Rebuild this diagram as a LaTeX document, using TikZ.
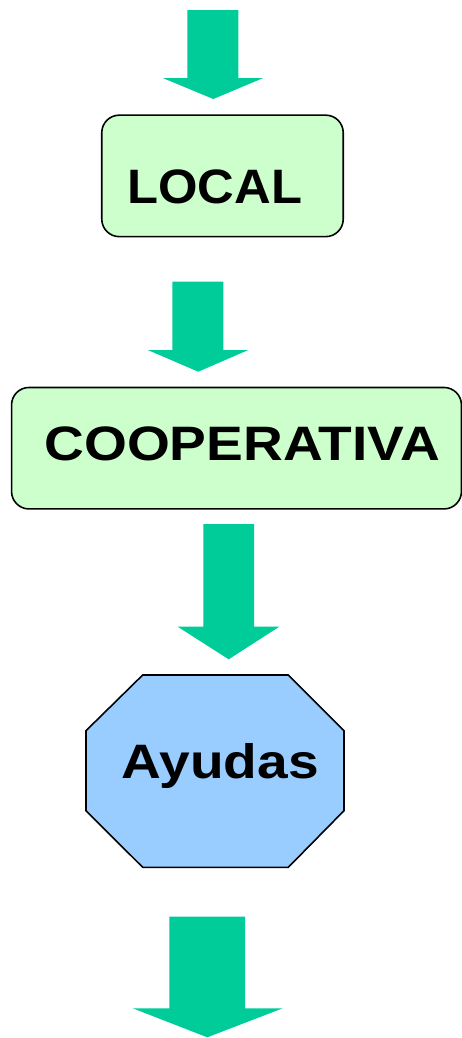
\documentclass[tikz,border=0pt]{standalone}
\usepackage{fontspec}
\setmainfont{Liberation Sans}
\usepackage{xcolor}
\usepackage{tikz}
\usetikzlibrary{positioning}

\definecolor{arrowgreen}{HTML}{00CC99}
\definecolor{boxgreen}{HTML}{CCFFCC}
\definecolor{octblue}{HTML}{99CCFF}

\tikzset{
  greenbox/.style={draw=black, line width=0.9pt, fill=boxgreen, rounded corners=0.35cm},
  bigword/.style={inner sep=0pt, anchor=base west, font=\fontsize{27.5}{32}\selectfont\bfseries},
}

\begin{document}
\begin{tikzpicture}[x=0.02cm, y=-0.02cm]
\useasboundingbox (0,0) rectangle (462,1038);

% Arrow into LOCAL
\fill[arrowgreen] (187.3,10) -- (238.3,10) -- (238.3,78) -- (263.3,78) -- (213.3,99)
  -- (162.7,78) -- (187.3,78) -- cycle;

% LOCAL box
\node[greenbox, minimum width=4.83cm, minimum height=2.43cm] (local) at (222.5,175.9) {};
\node[bigword, xscale=1.05] (localtxt) at (127,203) {LOCAL};

% Arrow into COOPERATIVA
\fill[arrowgreen] (172.3,281.7) -- (223.3,281.7) -- (223.3,350) -- (248.3,350) -- (198.3,371.7)
  -- (147.7,350) -- (172.3,350) -- cycle;

% COOPERATIVA box
\node[greenbox, minimum width=9.0cm, minimum height=2.43cm] (coop) at (236.5,448.2) {};
\node[bigword, xscale=1.14] (cooptxt) at (44,460.7) {COOPERATIVA};

% Arrow into Ayudas
\fill[arrowgreen] (203.3,524) -- (254,524) -- (254,626.7) -- (279.3,626.7) -- (228.7,659.3)
  -- (177.7,626.7) -- (203.3,626.7) -- cycle;

% Ayudas octagon
\draw[line width=0.9pt, fill=octblue] (142.7,675) -- (288.3,675) -- (344,730.7) -- (344,810.7)
  -- (288.3,867.3) -- (142.7,867.3) -- (86,810.7) -- (86,730.7) -- cycle;
\node[bigword, xscale=1.14] (ayudas) at (121.5,778.3) {Ayudas};

% Arrow out
\fill[arrowgreen] (169.3,916.7) -- (245,916.7) -- (245,1008.3) -- (282.7,1008.3) -- (207.3,1037.3)
  -- (132.7,1008.3) -- (169.3,1008.3) -- cycle;

\end{tikzpicture}
\end{document}
